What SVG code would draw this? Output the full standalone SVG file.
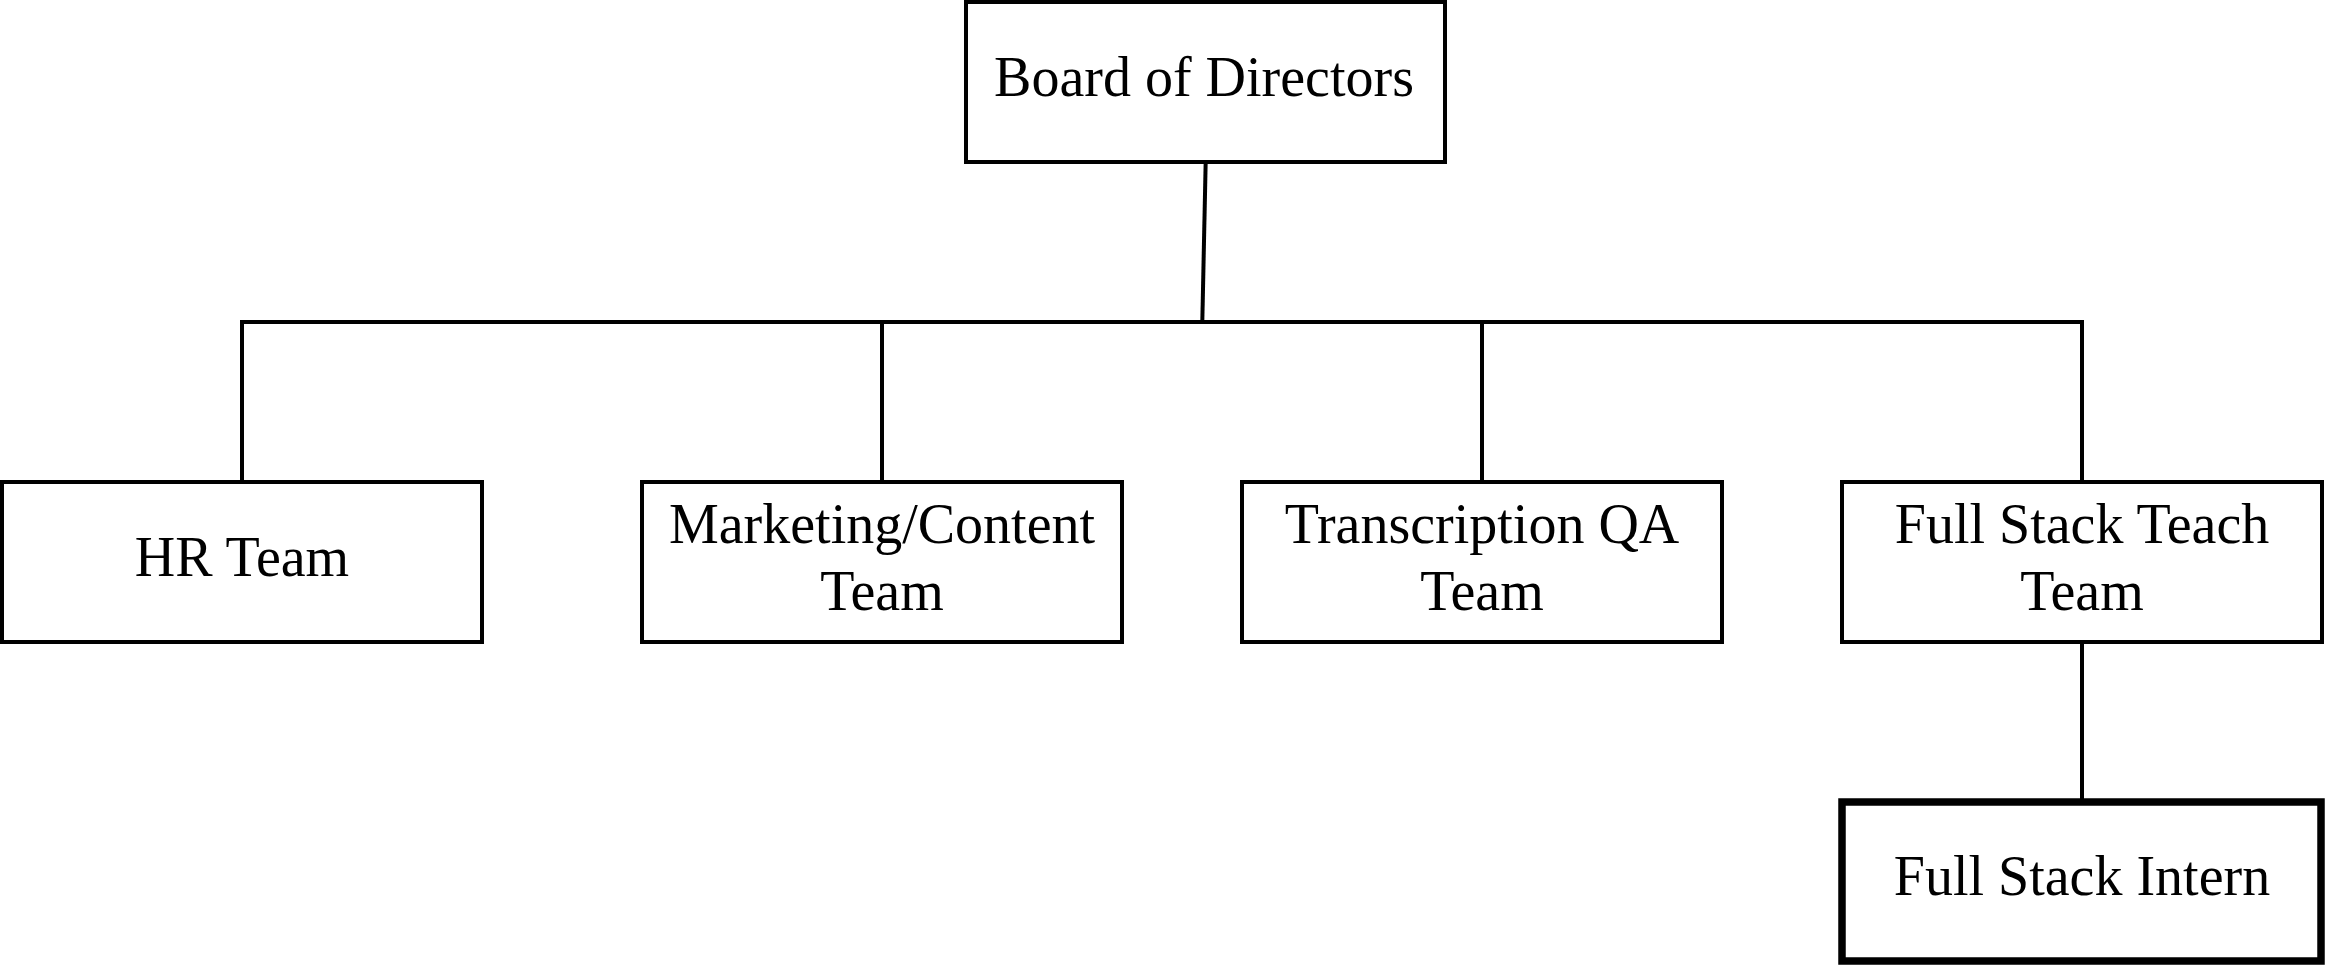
<svg xmlns="http://www.w3.org/2000/svg" width="2328" height="968" viewBox="0 0 2328 968">
<style>
.box{fill:#fff;stroke:#000;stroke-width:4}
.thick{fill:#fff;stroke:#000;stroke-width:7.5}
.lbl{font-family:"Liberation Serif","Times New Roman",serif;font-size:56px;fill:#000;text-anchor:middle}
.con{stroke:#000;stroke-width:4;fill:none}
</style>
<rect width="2328" height="968" fill="#fff"/>
<g id="connectors">
<line class="con" x1="1205.7" y1="161" x2="1202.3" y2="322"/>
<line class="con" x1="240" y1="322" x2="2084" y2="322"/>
<line class="con" x1="242" y1="322" x2="242" y2="482"/>
<line class="con" x1="882" y1="322" x2="882" y2="482"/>
<line class="con" x1="1482" y1="322" x2="1482" y2="482"/>
<line class="con" x1="2082" y1="322" x2="2082" y2="482"/>
<line class="con" x1="2082" y1="642" x2="2082" y2="802"/>
</g>
<g id="board">
<rect class="box" x="966" y="2" width="479" height="160"/>
<text class="lbl" x="1204" y="96">Board of Directors</text>
</g>
<g id="hr">
<rect class="box" x="2" y="482" width="480" height="160"/>
<text class="lbl" x="242" y="576">HR Team</text>
</g>
<g id="marketing">
<rect class="box" x="642" y="482" width="480" height="160"/>
<text class="lbl" x="882" y="543">Marketing/Content</text>
<text class="lbl" x="882" y="610">Team</text>
</g>
<g id="transcription">
<rect class="box" x="1242" y="482" width="480" height="160"/>
<text class="lbl" x="1482" y="543">Transcription QA</text>
<text class="lbl" x="1482" y="610">Team</text>
</g>
<g id="fullstack">
<rect class="box" x="1842" y="482" width="480" height="160"/>
<text class="lbl" x="2082" y="543">Full Stack Teach</text>
<text class="lbl" x="2082" y="610">Team</text>
</g>
<g id="intern">
<rect class="thick" x="1842" y="802" width="479" height="159"/>
<text class="lbl" x="2082" y="895">Full Stack Intern</text>
</g>
</svg>
